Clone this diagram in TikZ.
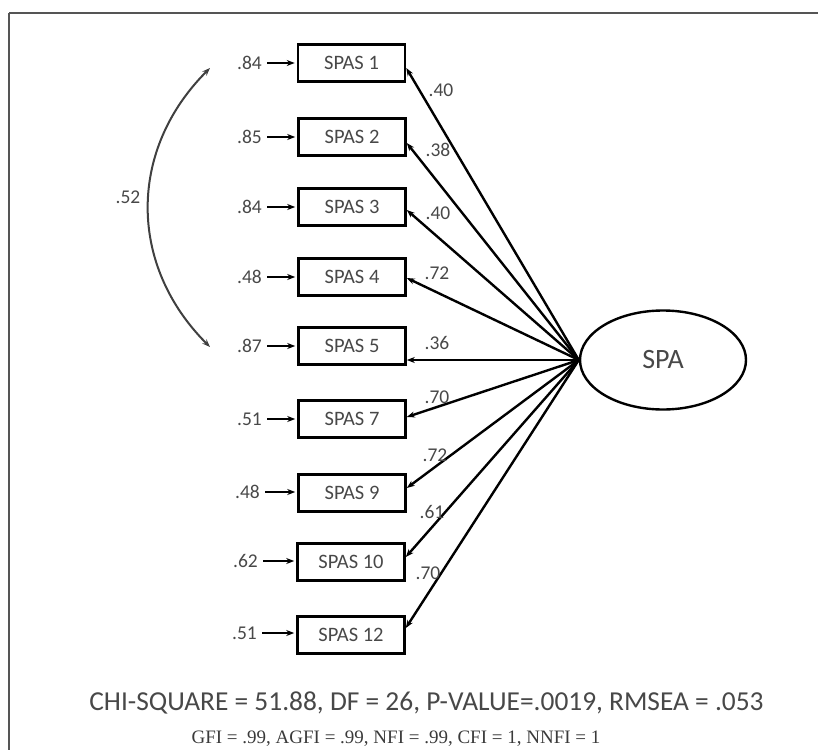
\documentclass[tikz,border=0pt]{standalone}
\usepackage{fontspec}
\setmainfont{Carlito}
\newfontfamily\serifnum{Liberation Serif}
\usetikzlibrary{arrows.meta,calc,shapes.geometric}

\definecolor{txt}{HTML}{484848}
\definecolor{frame}{HTML}{555555}

\tikzset{
  item/.style={draw=black, line width=2.6pt, minimum width=107pt, minimum height=37pt,
    inner sep=0pt, text=txt, font=\fontsize{20.5}{22}\selectfont},
  errlab/.style={text=txt, font=\fontsize{19.5}{21}\selectfont, inner sep=1pt, anchor=east},
  loadlab/.style={text=txt, font=\fontsize{19.5}{21}\selectfont, inner sep=0pt},
  errarrow/.style={draw=black, line width=1.6pt, -{Stealth[length=8pt,width=6pt]},
    shorten <=4pt, shorten >=2pt},
  loading/.style={draw=black, line width=2.4pt, -{Stealth[length=8pt,width=6pt]}},
  latent/.style={draw=black, line width=2.4pt, ellipse, minimum width=166pt,
    minimum height=99pt, text=txt, font=\fontsize{28}{30}\selectfont},
  covar/.style={draw=black!75, line width=2pt, {Stealth[length=8pt,width=6pt]}-{Stealth[length=8pt,width=6pt]}}
}

\begin{document}
\begin{tikzpicture}[x=1pt,y=-1pt]
  \useasboundingbox (0,0) rectangle (818,749);
  % outer frame (runs off the right and bottom edges)
  \draw[frame, line width=2.6pt] (9,13) -- (830,13);
  \draw[frame, line width=2.6pt] (9,13) -- (9,760);

  % latent factor
  \node[latent] (spa) at (663,360) {SPA};
  \coordinate (hub) at (spa.west);

  % observed items
  \node[item] (b1)  at (351.5,63)  {SPAS 1};
  \node[item] (b2)  at (352,137)   {SPAS 2};
  \node[item] (b3)  at (352,207)   {SPAS 3};
  \node[item] (b4)  at (352,277)   {SPAS 4};
  \node[item] (b5)  at (352,346)   {SPAS 5};
  \node[item] (b7)  at (352,419)   {SPAS 7};
  \node[item] (b9)  at (352,493)   {SPAS 9};
  \node[item] (b10) at (351,562)   {SPAS 10};
  \node[item] (b12) at (351,635)   {SPAS 12};

  % error variances
  \node[errlab] (e1)  at (263,63)  {.84};
  \node[errlab] (e2)  at (263,137) {.85};
  \node[errlab] (e3)  at (263,207) {.84};
  \node[errlab] (e4)  at (263,277) {.48};
  \node[errlab] (e5)  at (263,346) {.87};
  \node[errlab] (e7)  at (263,419) {.51};
  \node[errlab] (e9)  at (261,492) {.48};
  \node[errlab] (e10) at (259,561) {.62};
  \node[errlab] (e12) at (258,633) {.51};
  \foreach \k in {1,2,3,4,5,7,9,10,12}
    \draw[errarrow] (e\k.east) -- (e\k.east -| b\k.west);

  % factor loadings
  \draw[loading] (hub) -- ([yshift=-5pt]b1.east);
  \draw[loading] (hub) -- ([yshift=-6pt]b2.east);
  \draw[loading] (hub) -- ([yshift=-3pt]b3.east);
  \draw[loading] (hub) -- ([yshift=-1pt]b4.east);
  \draw[loading] (hub) -- (hub -| b5.east);
  \draw[loading] (hub) -- ([yshift=2pt]b7.east);
  \draw[loading] (hub) -- ([yshift=5pt]b9.east);
  \draw[loading] (hub) -- ([yshift=5pt]b10.east);
  \draw[loading] (hub) -- ([yshift=7pt]b12.east);

  \node[loadlab] (l1)  at (441,90)  {.40};
  \node[loadlab] (l2)  at (438,150) {.38};
  \node[loadlab] (l3)  at (438,213) {.40};
  \node[loadlab] (l4)  at (437,273) {.72};
  \node[loadlab] (l5)  at (437,343) {.36};
  \node[loadlab] (l7)  at (437,397) {.70};
  \node[loadlab] (l9)  at (435,455) {.72};
  \node[loadlab] (l10) at (432,512) {.61};
  \node[loadlab] (l12) at (428,573) {.70};

  % error covariance between items 1 and 5
  \coordinate (c1) at (210,68);
  \coordinate (c5) at (210,347);
  \draw[covar] (c1) .. controls (128,150) and (128,265) .. (c5);
  \node[loadlab] (cov) at (128,197) {.52};

  % fit statistics
  \node[anchor=base, text=txt, font=\fontsize{27.4}{30}\selectfont, inner sep=0pt] (fit1)
    at (426.5,710) {CHI-SQUARE = 51.88, DF = 26, P-VALUE=.0019, RMSEA = .053};
  \node[anchor=base, text=txt!80!black, font=\serifnum\fontsize{19}{21}\selectfont, inner sep=0pt] (fit2)
    at (396,743) {GFI = .99, AGFI = .99, NFI = .99, CFI = 1, NNFI = 1};
\end{tikzpicture}
\end{document}
